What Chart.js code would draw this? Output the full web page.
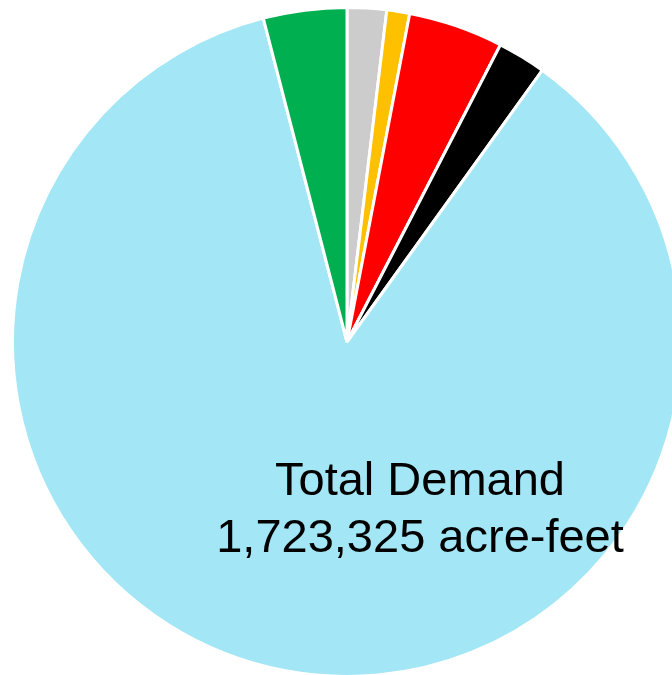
<!DOCTYPE html>
<html>
<head>
<meta charset="utf-8">
<script src="https://cdn.jsdelivr.net/npm/chart.js@4"></script>
<style>
  html, body { margin: 0; padding: 0; background: #ffffff; overflow: hidden; width: 672px; height: 675px; }
  #wrap { position: absolute; left: 11px; top: 6px; width: 672px; height: 672px; }
</style>
</head>
<body>
<div id="wrap"><canvas id="c" width="672" height="672"></canvas></div>
<script>
const categories = ["Manufacturing", "Mining", "Municipal", "Steam-Electric", "Irrigation", "Livestock"];
const demandValues = [32750, 19000, 79000, 40200, 1482975, 69400];
const sliceColors = ["#CCCCCC", "#FFC000", "#FF0000", "#000000", "#A3E6F5", "#00B050"];
const labelLines = ["Total Demand", "1,723,325 acre-feet"];

const textPlugin = {
  id: 'centerText',
  afterDraw(chart) {
    const ctx = chart.ctx;
    ctx.save();
    ctx.fillStyle = '#000000';
    ctx.font = '47px "Liberation Sans", Arial, sans-serif';
    ctx.textAlign = 'center';
    ctx.textBaseline = 'alphabetic';
    // canvas offset: left 11, top 6
    ctx.fillText(labelLines[0], 420 - 11, 495 - 6);
    ctx.fillText(labelLines[1], 420 - 11, 551.5 - 6);
    ctx.restore();
  }
};

new Chart(document.getElementById('c'), {
  type: 'pie',
  data: {
    labels: categories,
    datasets: [{
      data: demandValues,
      backgroundColor: sliceColors,
      borderColor: '#ffffff',
      borderWidth: 3,
      hoverOffset: 0,
      offset: 0
    }]
  },
  options: {
    responsive: false,
    animation: false,
    layout: { padding: 0 },
    plugins: {
      legend: { display: false },
      tooltip: { enabled: false }
    }
  },
  plugins: [textPlugin]
});
</script>
</body>
</html>
